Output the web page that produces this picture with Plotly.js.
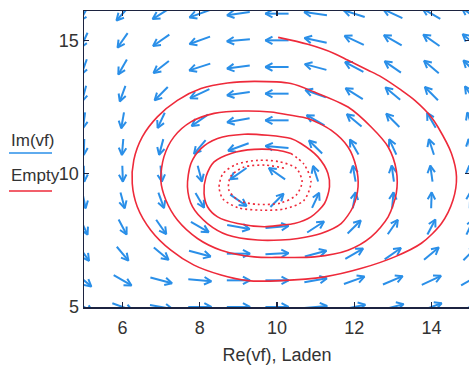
<!DOCTYPE html>
<html><head><meta charset="utf-8">
<script src="https://cdn.plot.ly/plotly-3.0.1.min.js"></script>
<style>html,body{margin:0;padding:0;overflow:hidden;background:#fff}#chart{width:472px;height:365px}</style>
</head><body><div id="chart"></div>
<script>
// ---- data ----
const gridX = [5, 6, 7, 8, 9, 10, 11, 12, 13, 14, 15];
const gridY = [16, 15, 14, 13, 12, 11, 10, 9, 8, 7, 6, 5];
// on-screen direction of each arrow, degrees (0 = right, 90 = up); rows follow gridY
const arrowAngleDeg = [
  [240, 228, 212, 200, 188, 180, 172, 162, 155, 150, 145],
  [245, 235, 215, 200, 185, 180, 168, 155, 150, 145, 140],
  [250, 240, 218, 198, 188, 180, 165, 152, 145, 140, 135],
  [255, 250, 225, 205, 188, 180, 160, 148, 140, 135, 125],
  [262, 260, 245, 215, 190, 180, 150, 140, 135, 120, 110],
  [268, 265, 255, 230, 200, 175, 135, 120, 115, 108, 100],
  [272, 272, 275, 285, 215, 145, 108, 100, 98, 98, 95],
  [282, 285, 290, 300, 325, 45, 65, 80, 85, 88, 88],
  [295, 298, 305, 330, 350, 5, 33, 45, 55, 62, 65],
  [305, 310, 320, 345, 0, 3, 15, 30, 35, 40, 45],
  [320, 330, 345, 355, 0, 0, 10, 20, 23, 25, 30],
  [330, 340, 350, 0, 0, 0, 5, 12, 15, 20, 25]
];
const spiralX = [10.03, 10.8, 11.48, 11.84, 12.36, 12.70, 13.22, 13.57, 14.0, 14.17, 14.52, 14.65, 14.56, 14.26, 13.74, 13.05, 12.19, 11.23, 10.11, 9.24, 8.55, 7.85, 7.25, 6.73, 6.38, 6.25, 6.29, 6.51, 6.90, 7.42, 8.03, 8.72, 9.41, 10.36, 10.97, 11.84, 12.44, 12.88, 13.09, 13.09, 12.88, 12.44, 11.84, 10.97, 10.10, 9.41, 8.55, 7.94, 7.42, 7.12, 6.99, 7.07, 7.33, 7.77, 8.37, 9.15, 9.84, 10.36, 10.80, 11.40, 11.84, 12.05, 12.10, 11.97, 11.66, 11.14, 10.54, 10.10, 9.50, 8.72, 8.20, 7.81, 7.68, 7.77, 8.03, 8.46, 9.15, 9.76, 10.36, 10.62, 11.06, 11.32, 11.36, 11.23, 10.88, 10.45, 10.10, 9.67, 8.98, 8.46, 8.20, 8.11, 8.16, 8.37, 8.81, 9.41, 10.02, 10.36];
const spiralY = [15.11, 14.85, 14.51, 14.25, 13.88, 13.63, 13.13, 12.75, 12.12, 11.75, 10.76, 9.88, 9.01, 8.13, 7.39, 6.88, 6.45, 6.13, 5.99, 5.99, 6.20, 6.57, 7.13, 7.88, 8.76, 9.63, 10.51, 11.38, 12.13, 12.75, 13.19, 13.40, 13.46, 13.38, 13.06, 12.50, 11.75, 11.00, 10.13, 9.26, 8.38, 7.63, 7.13, 6.88, 6.86, 6.88, 7.13, 7.57, 8.26, 9.01, 9.76, 10.63, 11.38, 11.94, 12.26, 12.35, 12.31, 12.19, 12.07, 11.63, 11.00, 10.25, 9.51, 8.76, 8.13, 7.76, 7.57, 7.51, 7.51, 7.70, 8.13, 8.76, 9.51, 10.38, 10.94, 11.32, 11.48, 11.44, 11.32, 11.13, 10.63, 10.01, 9.51, 8.88, 8.38, 8.13, 8.07, 8.01, 8.13, 8.38, 8.76, 9.26, 9.88, 10.44, 10.76, 10.91, 10.88, 10.76];
const innerX = [10.36, 10.70, 10.88, 10.70, 10.20, 9.60, 9.00, 8.60, 8.50, 8.60, 8.95, 9.50, 10.05, 10.50, 10.65, 10.50, 10.10, 9.50, 9.00, 8.75, 8.80, 9.15, 9.70, 10.20];
const innerY = [10.76, 10.35, 9.70, 9.00, 8.68, 8.63, 8.72, 9.05, 9.50, 10.00, 10.35, 10.50, 10.45, 10.20, 9.70, 9.20, 8.90, 8.85, 9.00, 9.40, 9.90, 10.25, 10.32, 10.20];
const xTickVals = [6, 8, 10, 12, 14];
const yTickVals = [5, 10, 15];
const legendLabels = ['Im(vf)', 'Empty'];
const xTitle = 'Re(vf), Laden';

// ---- styles / geometry ----
const BLUE = '#2a8fe8', RED = '#ee2a3a', AXIS = '#1c2340', TXT = '#333333';
const FONT = 'Liberation Sans, Arial, sans-serif';
const W = 472, H = 365, M = {l: 84, r: 2, t: 11, b: 58};
const xRange = [5, 15], yRange = [5, 16.1];
const kx = (W - M.l - M.r) / (xRange[1] - xRange[0]);
const ky = (H - M.t - M.b) / (yRange[1] - yRange[0]);
const L = 0.6, headPx = 8, headAng = 28 * Math.PI / 180;

const ax = [], ay = [];
gridY.forEach((y, i) => gridX.forEach((x, j) => {
  const phi = arrowAngleDeg[i][j] * Math.PI / 180;
  let a = Math.cos(phi) / kx, b = Math.sin(phi) / ky;
  const n = Math.hypot(a, b); a = a / n * L; b = b / n * L;
  const tx = x + a / 2, ty = y + b / 2;
  let cx = a * kx, cy = b * ky; const m = Math.hypot(cx, cy); cx /= m; cy /= m;
  ax.push(x - a / 2, tx, null); ay.push(y - b / 2, ty, null);
  const hs = [1, -1].map(s => {
    const vx = -cx, vy = -cy, t = s * headAng;
    return [tx + headPx * (vx * Math.cos(t) - vy * Math.sin(t)) / kx,
            ty + headPx * (vx * Math.sin(t) + vy * Math.cos(t)) / ky];
  });
  ax.push(hs[0][0], tx, hs[1][0], null); ay.push(hs[0][1], ty, hs[1][1], null);
}));

const traces = [
  {x: ax, y: ay, mode: 'lines', line: {color: BLUE, width: 2}, hoverinfo: 'skip', showlegend: false},
  {x: spiralX, y: spiralY, mode: 'lines', line: {color: RED, width: 1.6, shape: 'spline', smoothing: 0.8}, hoverinfo: 'skip', showlegend: false},
  {x: innerX, y: innerY, mode: 'lines', line: {color: RED, width: 1.6, shape: 'spline', smoothing: 0.8, dash: '2px,3px'}, hoverinfo: 'skip', showlegend: false}
];

const pw = W - M.l - M.r, ph = H - M.t - M.b;
const px2x = p => (p - M.l) / pw, py2y = p => (M.t + ph - p) / ph;
const axisCommon = {showline: true, linecolor: AXIS, linewidth: 1.5, mirror: 'ticks', ticks: 'inside', ticklen: 5,
  tickcolor: AXIS, tickwidth: 1.2, showgrid: false, zeroline: false, tickfont: {family: FONT, size: 18, color: TXT}};
const layout = {
  width: W, height: H, margin: M, paper_bgcolor: '#fff', plot_bgcolor: '#fff', showlegend: false,
  xaxis: Object.assign({}, axisCommon, {range: xRange, tickvals: xTickVals, ticklabelstandoff: 4,
    title: {text: xTitle, font: {family: FONT, size: 18, color: TXT}, standoff: 11}}),
  yaxis: Object.assign({}, axisCommon, {range: yRange, tickvals: yTickVals}),
  annotations: [
    {text: legendLabels[0], xref: 'paper', yref: 'paper', x: px2x(9), y: py2y(140), xanchor: 'left', yanchor: 'middle', showarrow: false, font: {family: FONT, size: 17, color: TXT}},
    {text: legendLabels[1], xref: 'paper', yref: 'paper', x: px2x(9), y: py2y(175), xanchor: 'left', yanchor: 'middle', showarrow: false, font: {family: FONT, size: 17, color: TXT}}
  ],
  shapes: [
    {type: 'line', xref: 'paper', yref: 'paper', x0: px2x(9), x1: px2x(52), y0: py2y(153), y1: py2y(153), line: {color: BLUE, width: 1.6}},
    {type: 'line', xref: 'paper', yref: 'paper', x0: px2x(9), x1: px2x(52), y0: py2y(191), y1: py2y(191), line: {color: RED, width: 1.6}}
  ]
};
Plotly.newPlot('chart', traces, layout, {staticPlot: true, displayModeBar: false});
</script></body></html>
